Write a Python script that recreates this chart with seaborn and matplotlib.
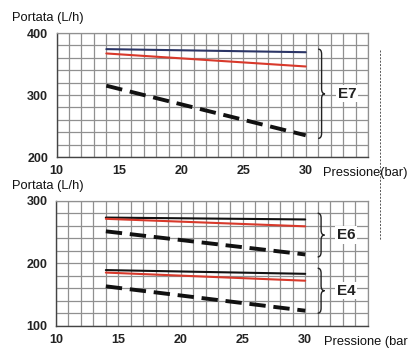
import matplotlib
matplotlib.use("Agg")
import matplotlib.pyplot as plt
import seaborn as sns
import pandas as pd
from matplotlib.ticker import MultipleLocator
from matplotlib.path import Path
from matplotlib.patches import PathPatch
from matplotlib.lines import Line2D

# ---------------- data ----------------
pressure = [14, 30]

e7_blue = [374, 369]
e7_red = [367, 346]
e7_dash = [315, 235]

e6_black = [273, 270]
e6_red = [271, 259]
e6_dash = [251, 214]

e4_black = [189, 183]
e4_red = [185, 172]
e4_dash = [163, 124]

x_ticks = [10, 15, 20, 25, 30]
top_yticks = [200, 300, 400]
bot_yticks = [100, 200, 300]

groups_top = ["E7"]
spans_top = [(230, 374)]
groups_bot = ["E6", "E4"]
spans_bot = [(210, 280), (120, 192)]

# ---------------- style ----------------
sns.set_style("white")
plt.rcParams["font.family"] = ["Liberation Sans", "DejaVu Sans"]

W, H = 409, 351
fig = plt.figure(figsize=(W / 100, H / 100), dpi=100)

def px_axes(left, top, right, bottom):
    return fig.add_axes([left / W, 1 - bottom / H, (right - left) / W, (bottom - top) / H])

ax_top = px_axes(56.5, 33, 368, 157)
ax_bot = px_axes(56, 200.7, 367.5, 325.7)

BLUE = "#2b3566"
RED = "#d8392b"
BLACK = "#111111"
GRID = "#909090"

def draw_brace(ax, x, y0, y1, w, d):
    ym = (y0 + y1) / 2
    verts = [
        (x, y1),
        (x + w / 2, y1), (x + w / 2, y1 - d),
        (x + w / 2, ym + d),
        (x + w / 2, ym), (x + w, ym),
        (x + w / 2, ym), (x + w / 2, ym - d),
        (x + w / 2, y0 + d),
        (x + w / 2, y0), (x, y0),
    ]
    codes = [Path.MOVETO,
             Path.CURVE3, Path.CURVE3,
             Path.LINETO,
             Path.CURVE3, Path.CURVE3,
             Path.CURVE3, Path.CURVE3,
             Path.LINETO,
             Path.CURVE3, Path.CURVE3]
    patch = PathPatch(Path(verts, codes), fill=False, lw=1.0, color="#222222", clip_on=False)
    ax.add_patch(patch)

def setup(ax, ylim, yticks):
    ax.set_xlim(10, 35)
    ax.set_ylim(*ylim)
    ax.xaxis.set_minor_locator(MultipleLocator(1))
    ax.yaxis.set_minor_locator(MultipleLocator(20))
    ax.set_xticks(x_ticks)
    ax.set_yticks(yticks)
    ax.grid(True, which="both", color=GRID, lw=0.9)
    ax.set_axisbelow(True)
    for s in ["top", "right"]:
        ax.spines[s].set_color(GRID)
        ax.spines[s].set_linewidth(0.9)
    for s in ["left", "bottom"]:
        ax.spines[s].set_color("#444444")
        ax.spines[s].set_linewidth(1.0)
    ax.tick_params(which="major", length=4, width=1, color="#444444", direction="out",
                   labelsize=9, pad=2)
    ax.tick_params(which="minor", length=0)
    for lab in ax.get_xticklabels() + ax.get_yticklabels():
        lab.set_fontweight("bold")
        lab.set_color("#222222")
    ax.set_xlabel("")
    ax.set_ylabel("")

def line(ax, ys, color, dashed=False):
    df = pd.DataFrame({"p": pressure, "q": ys})
    if dashed:
        sns.lineplot(data=df, x="p", y="q", ax=ax, color=color, lw=2.8,
                     linestyle=(0, (4.2, 2.0)))
    else:
        sns.lineplot(data=df, x="p", y="q", ax=ax, color=color, lw=1.5)

# top panel
line(ax_top, e7_blue, BLUE)
line(ax_top, e7_red, RED)
line(ax_top, e7_dash, BLACK, dashed=True)
setup(ax_top, (200, 400), top_yticks)
for name, (y0, y1) in zip(groups_top, spans_top):
    draw_brace(ax_top, 31.0, y0, y1, 0.55, 8)
    ax_top.text(33.3, (y0 + y1) / 2, name, ha="center", va="center", fontsize=11,
                fontweight="bold", color="#222222",
                bbox=dict(facecolor="white", edgecolor="none", pad=1.2))

# bottom panel
line(ax_bot, e6_black, BLACK)
line(ax_bot, e6_red, RED)
line(ax_bot, e6_dash, BLACK, dashed=True)
line(ax_bot, e4_black, BLACK)
line(ax_bot, e4_red, RED)
line(ax_bot, e4_dash, BLACK, dashed=True)
setup(ax_bot, (100, 300), bot_yticks)
for name, (y0, y1) in zip(groups_bot, spans_bot):
    draw_brace(ax_bot, 31.0, y0, y1, 0.55, 8)
    ax_bot.text(33.3, (y0 + y1) / 2, name, ha="center", va="center", fontsize=11,
                fontweight="bold", color="#222222",
                bbox=dict(facecolor="white", edgecolor="none", pad=1.2))

# axis titles
fig.text(12 / W, 1 - 18 / H, "Portata (L/h)", ha="left", va="center", fontsize=9.3, color="#111111")
fig.text(12 / W, 1 - 186.5 / H, "Portata (L/h)", ha="left", va="center", fontsize=9.3, color="#111111")
fig.text(323 / W, 1 - 173 / H, "Pressione(bar)", ha="left", va="center", fontsize=9.3, color="#111111")
fig.text(324 / W, 1 - 342.5 / H, "Pressione (bar", ha="left", va="center", fontsize=9.3, color="#111111")

# faint scan artifact line on the right
fig.add_artist(Line2D([380 / W, 380 / W], [1 - 50 / H, 1 - 240 / H], transform=fig.transFigure,
                      color="#555555", lw=0.7, linestyle=(0, (2, 1.5))))

fig.savefig("out.png", dpi=100, facecolor="white")
